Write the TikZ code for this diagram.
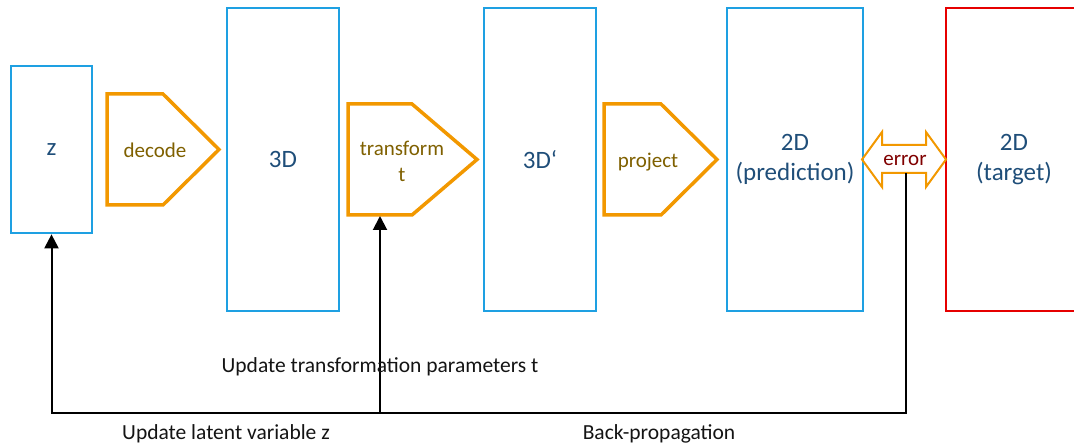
\documentclass[tikz,border=0pt]{standalone}
\usepackage{fontspec}
\setmainfont{Carlito}
\usetikzlibrary{arrows.meta}
\definecolor{boxblue}{RGB}{30,160,226}
\definecolor{txtblue}{RGB}{31,78,121}
\definecolor{oporange}{RGB}{242,152,0}
\definecolor{opbrown}{RGB}{127,96,0}
\definecolor{errred}{RGB}{128,0,0}
\definecolor{tgtred}{RGB}{230,0,0}
\definecolor{labelgray}{RGB}{20,20,20}
\begin{document}
\begin{tikzpicture}[x=1pt,y=-1pt,
  databox/.style={draw=boxblue,line width=2.7pt,inner sep=0pt,text=txtblue,
    font=\fontsize{25}{30}\selectfont,align=center},
  opshape/.style={draw=oporange,line width=3.5pt,line join=miter},
  optext/.style={text=opbrown,font=\fontsize{21}{26}\selectfont,align=center,inner sep=0pt},
  feedback/.style={draw=black,line width=2pt},
  tip/.style={-{Triangle[width=14pt,length=14pt]}},
  steplabel/.style={anchor=base,text=labelgray,font=\fontsize{21.5}{26}\selectfont,inner sep=0pt}]
\useasboundingbox (0,0) rectangle (1074,443);
\clip (0,0) rectangle (1074,443);

% data boxes
\node[databox,minimum width=81pt,minimum height=167pt] (z) at (51.5,149.5) {z};
\node[databox,minimum width=112pt,minimum height=303pt] (threed) at (283,159.5) {3D};
\node[databox,minimum width=112pt,minimum height=303pt] (threedp) at (540,159.5) {3D‘};
\node[databox,minimum width=136pt,minimum height=303pt] (pred) at (795,159.5) {2D\\(prediction)};
\node[databox,draw=tgtred,minimum width=136pt,minimum height=303pt] (target) at (1014,159.5) {2D\\(target)};

% operations
\draw[opshape] (107,94) -- (163,94) -- (219,149.5) -- (163,205) -- (107,205) -- cycle;
\node[optext] (decode) at (155,150.5) {decode};
\draw[opshape] (348,104) -- (412,104) -- (477,159.5) -- (412,215) -- (348,215) -- cycle;
\node[optext] (transform) at (402,161) {transform\\t};
\draw[opshape] (604,104) -- (661,104) -- (717,159.5) -- (661,215) -- (604,215) -- cycle;
\node[optext] (project) at (648,162) {project};

% error double arrow
\draw[draw=oporange,line width=2pt,line join=miter]
  (862,159.5) -- (882,132) -- (882,145) -- (926,145) -- (926,132) -- (946,159.5)
  -- (926,187) -- (926,173) -- (882,173) -- (882,187) -- cycle;
\node[optext,text=errred] (error) at (905,160) {error};

% feedback paths
\coordinate (bpstart) at (906,173);
\coordinate (base) at (0,413);
\coordinate (tfin) at (380,216);
\draw[feedback,tip] (bpstart) -- (bpstart |- base) -- (z.south |- base) -- (z.south);
\draw[feedback,tip] (tfin |- base) -- (tfin);

% labels
\node[steplabel] (lt) at (380,373) {Update transformation parameters t};
\node[steplabel] (lz) at (226,439) {Update latent variable z};
\node[steplabel] (lb) at (659,439) {Back-propagation};
\end{tikzpicture}
\end{document}
